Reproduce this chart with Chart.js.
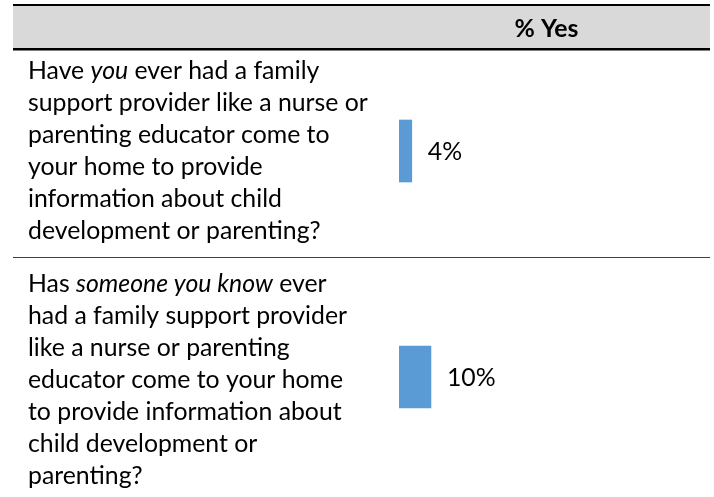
<!DOCTYPE html>
<html>
<head>
<meta charset="utf-8">
<script src="https://cdn.jsdelivr.net/npm/chart.js@4"></script>
<style>
    html, body { margin: 0; padding: 0; background: #fff; }
    #wrap { width: 714px; height: 497px; position: relative; }
</style>
</head>
<body>
<div id="wrap"><canvas id="yesChart"></canvas></div>
<script>
// questions (one entry per text line, *...* = italic)
const questions = [
    ['Have *you* ever had a family',
     'support provider like a nurse or',
     'parenting educator come to',
     'your home to provide',
     'information about child',
     'development or parenting?'],
    ['Has *someone you know* ever',
     'had a family support provider',
     'like a nurse or parenting',
     'educator come to your home',
     'to provide information about',
     'child development or',
     'parenting?']
];
const pctYes = [4, 10];
const columnTitle = '% Yes';

const FONT = 'Lato, "Open Sans", sans-serif';

// size the font so the widest line is about as wide as in the original
function fitSize(ctx) {
    ctx.font = '100px ' + FONT;
    const w = ctx.measureText('support provider like a nurse or').width;
    return 100 * 340 / w;
}

// draw one line with *italic* pieces
function drawRich(ctx, line, x, y, size) {
    const parts = line.split('*');
    parts.forEach(function(p, i) {
        ctx.font = (i % 2 ? 'italic ' : '') + size + 'px ' + FONT;
        ctx.fillText(p, x, y);
        x += ctx.measureText(p).width;
    });
}

const tablePlugin = {
    id: 'tablePlugin',
    beforeDraw: function(chart) {
        const ctx = chart.ctx;
        const area = chart.chartArea;
        const size = fitSize(ctx);
        ctx.save();
        ctx.fillStyle = '#fff';
        ctx.fillRect(0, 0, chart.width, chart.height);

        // header band
        ctx.fillStyle = '#d9d9d9';
        ctx.fillRect(13, 6, 697, 42);
        ctx.fillStyle = '#000';
        ctx.fillRect(13, 4, 697, 2);
        ctx.fillRect(13, 48, 697, 2.5);

        ctx.font = 'bold ' + size + 'px ' + FONT;
        ctx.textAlign = 'center';
        ctx.textBaseline = 'middle';
        ctx.fillText(columnTitle, (area.left - 16 + area.right + 1) / 2, 29);

        // row separator
        const yScale = chart.scales.y;
        const sep = (yScale.getPixelForValue(0) + yScale.getPixelForValue(1)) / 2 - 7;
        ctx.fillStyle = '#404040';
        ctx.fillRect(13, Math.round(sep), 697, 1);
        ctx.restore();
    },
    afterDatasetsDraw: function(chart) {
        const ctx = chart.ctx;
        const size = fitSize(ctx);
        const yScale = chart.scales.y;
        const bars = chart.getDatasetMeta(0).data;
        ctx.save();
        ctx.fillStyle = '#000';
        ctx.textAlign = 'left';
        ctx.textBaseline = 'middle';

        questions.forEach(function(lines, r) {
            const cy = yScale.getPixelForValue(r) + (r ? 3 : 0);
            lines.forEach(function(line, i) {
                const y = cy + (i - (lines.length - 1) / 2) * 32;
                drawRich(ctx, line, 28, y, size);
            });
        });

        ctx.font = size + 'px ' + FONT;
        bars.forEach(function(bar, i) {
            ctx.fillText(pctYes[i] + '%', bar.x + 16, bar.y + 1);
        });
        ctx.restore();
    }
};

document.addEventListener('DOMContentLoaded', function() {
    const ctx = document.getElementById('yesChart').getContext('2d');
    new Chart(ctx, {
        type: 'bar',
        data: {
            labels: questions.map(function(q) { return q.join(' ').replace(/\*/g, ''); }),
            datasets: [{
                label: columnTitle,
                data: pctYes,
                backgroundColor: '#5b9bd5',
                borderWidth: 0,
                barThickness: 62
            }]
        },
        options: {
            indexAxis: 'y',
            responsive: true,
            maintainAspectRatio: false,
            animation: false,
            layout: { padding: { left: 399, right: 5, top: 38, bottom: 7 } },
            scales: {
                x: { display: false, min: 0, max: 97 },
                y: { display: false }
            },
            plugins: {
                legend: { display: false },
                tooltip: { enabled: false }
            }
        },
        plugins: [tablePlugin]
    });
});
</script>
</body>
</html>
